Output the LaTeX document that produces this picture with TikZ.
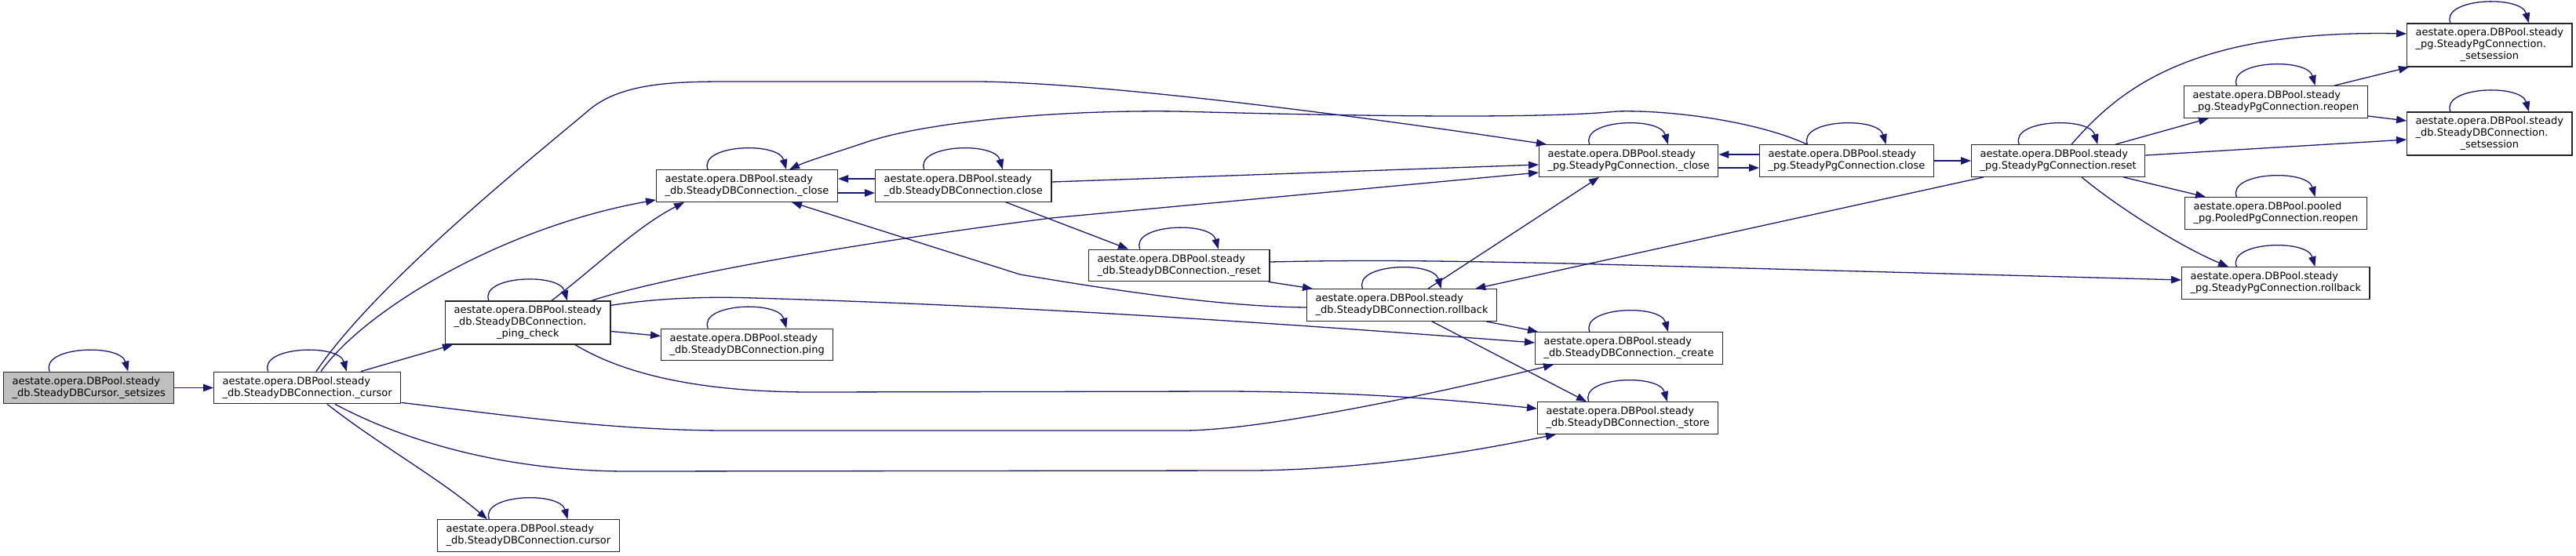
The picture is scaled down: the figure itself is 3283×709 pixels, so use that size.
\documentclass[tikz,border=0pt]{standalone}
\usepackage{fontspec}
\setmainfont{DejaVu Sans}
\usetikzlibrary{arrows.meta,calc}
\definecolor{edgeblue}{HTML}{191970}
\definecolor{nodegrey}{HTML}{BFBFBF}
\newcommand\selfloop[1]{\draw[edge] ($(#1.north)+(-50,0)$) .. controls ($(#1.north)+(-62,-32)$) and ($(#1.north)+(40,-36)$) .. ($(#1.north)+(50,0)$);}
\newcommand\threel[3]{\begin{tabular}{@{}l@{}}#1\\#2\\\multicolumn{1}{@{}c@{}}{#3}\end{tabular}}
\begin{document}
\begin{tikzpicture}[x=1pt,y=-1pt,
  box/.style={draw=black!85, line width=1.3pt, fill=white, inner xsep=11pt, inner ysep=0pt,
    minimum height=40.5pt, anchor=west, align=left, font=\fontsize{13}{15}\selectfont},
  boxthree/.style={box, minimum height=55pt},
  edge/.style={draw=edgeblue, line width=1.3pt, -{Triangle[length=13pt,width=9.5pt]}}]
\useasboundingbox (0,0) rectangle (3283,709);

% nodes
\node[box, fill=nodegrey] (setsizes) at (4,494.5) {aestate.opera.DBPool.steady\\\_db.SteadyDBCursor.\_setsizes};
\node[box] (cursorP) at (272,494.5) {aestate.opera.DBPool.steady\\\_db.SteadyDBConnection.\_cursor};
\node[box] (dbcloseU) at (836,237) {aestate.opera.DBPool.steady\\\_db.SteadyDBConnection.\_close};
\node[box] (dbclose) at (1115,237) {aestate.opera.DBPool.steady\\\_db.SteadyDBConnection.close};
\node[boxthree] (pingcheck) at (567,411.5) {\threel{aestate.opera.DBPool.steady}{\_db.SteadyDBConnection.}{\_ping\_check}};
\node[box] (ping) at (842,439.5) {aestate.opera.DBPool.steady\\\_db.SteadyDBConnection.ping};
\node[box] (dbcursor) at (557,683) {aestate.opera.DBPool.steady\\\_db.SteadyDBConnection.cursor};
\node[box] (dbreset) at (1387,338.5) {aestate.opera.DBPool.steady\\\_db.SteadyDBConnection.\_reset};
\node[box] (dbrollback) at (1665,389) {aestate.opera.DBPool.steady\\\_db.SteadyDBConnection.rollback};
\node[box] (create) at (1956,444) {aestate.opera.DBPool.steady\\\_db.SteadyDBConnection.\_create};
\node[box] (store) at (1959,533) {aestate.opera.DBPool.steady\\\_db.SteadyDBConnection.\_store};
\node[box] (pgcloseU) at (1961,205) {aestate.opera.DBPool.steady\\\_pg.SteadyPgConnection.\_close};
\node[box] (pgclose) at (2242,205) {aestate.opera.DBPool.steady\\\_pg.SteadyPgConnection.close};
\node[box] (pgreset) at (2512,205) {aestate.opera.DBPool.steady\\\_pg.SteadyPgConnection.reset};
\node[boxthree] (pgsetsession) at (3067,57.5) {\threel{aestate.opera.DBPool.steady}{\_pg.SteadyPgConnection.}{\_setsession}};
\node[box] (pgreopen) at (2783,130) {aestate.opera.DBPool.steady\\\_pg.SteadyPgConnection.reopen};
\node[boxthree] (dbsetsession) at (3067,170.5) {\threel{aestate.opera.DBPool.steady}{\_db.SteadyDBConnection.}{\_setsession}};
\node[box] (pooledreopen) at (2784,272) {aestate.opera.DBPool.pooled\\\_pg.PooledPgConnection.reopen};
\node[box] (pgrollback) at (2780,361) {aestate.opera.DBPool.steady\\\_pg.SteadyPgConnection.rollback};

% self loops
\foreach \n in {setsizes,cursorP,dbcloseU,dbclose,pingcheck,ping,dbcursor,dbreset,dbrollback,create,store,pgcloseU,pgclose,pgreset,pgsetsession,pgreopen,dbsetsession,pooledreopen,pgrollback}{\selfloop{\n}}

% edges
\draw[edge] (setsizes.east) -- (cursorP.west);
\draw[edge] ($(cursorP.north west)+(137,0)$) .. controls (465,395) and (640,290) .. ($(dbcloseU.south west)+(0,-3)$);
\draw[edge] ($(cursorP.north west)+(131,0)$) .. controls (480,360) and (680,200) .. (751,140) .. controls (795,103) and (870,104) .. (943,104) -- (1249,104) .. controls (1400,106) and (1700,143) .. ($(pgcloseU.north west)+(10,0)$);
\draw[edge] ($(cursorP.north west)+(188,0)$) -- ($(pingcheck.south west)+(10,0)$);
\draw[edge] ($(cursorP.south east)+(0,-2)$) .. controls (650,530) and (780,549) .. (928,549) -- (1508,549) .. controls (1620,549) and (1880,490) .. ($(create.south west)+(24,0)$);
\draw[edge] ($(cursorP.south west)+(155,0)$) .. controls (520,565) and (650,601) .. (800,601) -- (1600,600) .. controls (1750,598) and (1880,575) .. ($(store.south west)+(24,0)$);
\draw[edge] ($(cursorP.south west)+(145,0)$) .. controls (480,565) and (560,610) .. ($(dbcursor.north west)+(64,0)$);

\draw[edge] ($(pingcheck.north west)+(136,0)$) .. controls (760,340) and (810,290) .. ($(dbcloseU.south west)+(36,0)$);
\draw[edge] ($(pingcheck.north west)+(187,0)$) .. controls (830,358) and (1050,315) .. (1340,278) -- ($(pgcloseU.west)+(0,15)$);
\draw[edge] ($(pingcheck.east)+(0,11)$) -- ($(ping.west)+(0,-11)$);
\draw[edge] ($(pingcheck.north east)+(0,6)$) .. controls (840,380) and (900,378) .. (960,380) .. controls (1300,390) and (1600,410) .. ($(create.west)+(0,-7)$);
\draw[edge] ($(pingcheck.south west)+(166,0)$) .. controls (800,480) and (900,500) .. (1035,500) -- (1566,499) .. controls (1750,500) and (1870,512) .. ($(store.west)+(0,-12)$);

\draw[edge] ($(dbcloseU.east)+(0,9)$) -- ($(dbclose.west)+(0,9)$);
\draw[edge] ($(dbclose.west)+(0,-9)$) -- ($(dbcloseU.east)+(0,-9)$);
\draw[edge] ($(dbclose.east)+(0,-5)$) -- ($(pgcloseU.west)+(0,5)$);
\draw[edge] ($(dbclose.south west)+(167,0)$) -- ($(dbreset.north west)+(51,0)$);
\draw[edge] ($(dbreset.south east)+(-2,0)$) -- ($(dbrollback.north west)+(8,0)$);
\draw[edge] ($(dbreset.east)+(0,-4.5)$) .. controls (1750,331) and (1850,333) .. (2000,336) -- ($(pgrollback.west)+(0,-4)$);
\draw[edge] ($(dbrollback.west)+(0,3)$) .. controls (1560,391) and (1430,372) .. (1300,350) -- ($(dbcloseU.south west)+(173,0)$);
\draw[edge] ($(dbrollback.north west)+(155,0)$) -- ($(pgcloseU.south west)+(77,0)$);
\draw[edge] ($(dbrollback.south east)+(-14,0)$) -- ($(create.north west)+(4,0)$);
\draw[edge] ($(dbrollback.south west)+(160,0)$) -- ($(store.north west)+(63,0)$);

\draw[edge] ($(pgcloseU.east)+(0,9)$) -- ($(pgclose.west)+(0,9)$);
\draw[edge] ($(pgclose.west)+(0,-8)$) -- ($(pgcloseU.east)+(0,-8)$);
\draw[edge] ($(pgclose.north west)+(61,0)$) .. controls (2240,155) and (2130,140) .. (2061,142) .. controls (1980,150) and (1800,150) .. (1500,142) .. controls (1350,140) and (1180,155) .. (1102,182) .. controls (1060,196) and (1030,205) .. ($(dbcloseU.north west)+(170,0)$);
\draw[edge] (pgclose.east) -- (pgreset.west);

\draw[edge] ($(pgreset.south west)+(16,0)$) -- ($(dbrollback.north east)+(-28,0)$);
\draw[edge] ($(pgreset.north west)+(128,0)$) .. controls (2700,115) and (2790,38) .. ($(pgsetsession.west)+(0,-14.5)$);
\draw[edge] ($(pgreset.north west)+(184,0)$) -- ($(pgreopen.south west)+(32,0)$);
\draw[edge] ($(pgreset.east)+(0,-7)$) -- ($(dbsetsession.west)+(0,7.5)$);
\draw[edge] ($(pgreset.south west)+(194,0)$) -- ($(pooledreopen.north west)+(27,0)$);
\draw[edge] ($(pgreset.south west)+(141,0)$) .. controls (2700,265) and (2780,315) .. ($(pgrollback.north west)+(60,0)$);
\draw[edge] ($(pgreopen.north west)+(192,0)$) -- ($(pgsetsession.south west)+(3,0)$);
\draw[edge] ($(pgreopen.east)+(0,18)$) -- ($(dbsetsession.west)+(0,-16.5)$);
\end{tikzpicture}
\end{document}
